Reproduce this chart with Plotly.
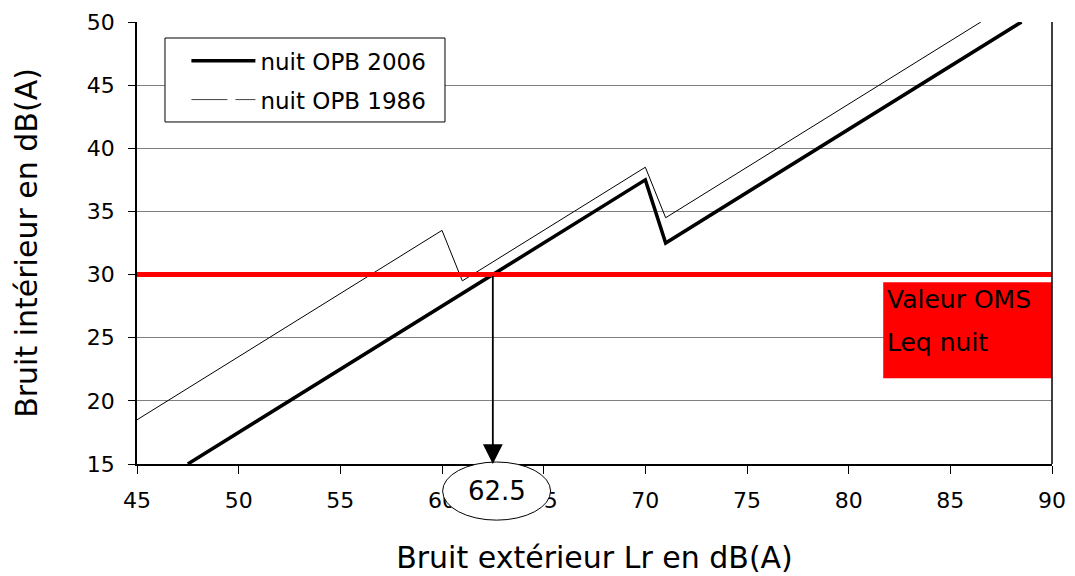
import plotly.graph_objects as go

# Data
x_2006 = [47.5, 70, 71, 88.5]
y_2006 = [15, 37.5, 32.5, 50]
x_1986 = [45, 60, 61, 70, 71, 86.5]
y_1986 = [18.5, 33.5, 29.5, 38.5, 34.5, 50]
oms_level = 30
crossing_x = 62.5
x_ticks = [45, 50, 55, 60, 65, 70, 75, 80, 85, 90]
y_ticks = [15, 20, 25, 30, 35, 40, 45, 50]

FONT = "DejaVu Sans"

fig = go.Figure()
fig.add_trace(go.Scatter(x=x_2006, y=y_2006, mode="lines", name="nuit OPB 2006",
                         legendgroup="a", line=dict(color="black", width=3.5)))
fig.add_trace(go.Scatter(x=x_1986, y=y_1986, mode="lines", name="nuit OPB 1986",
                         legendgroup="b", showlegend=False, line=dict(color="black", width=1)))
# legend-only entry showing the dashed sample
fig.add_trace(go.Scatter(x=[None], y=[None], mode="lines", name="nuit OPB 1986",
                         legendgroup="b", line=dict(color="#444444", width=1, dash="36px,8px,20px")))
# red WHO line
fig.add_trace(go.Scatter(x=[45, 90], y=[oms_level, oms_level], mode="lines",
                         line=dict(color="#ff0000", width=5), showlegend=False))

shapes = [
    dict(type="rect", xref="x", yref="y", x0=81.7, x1=90, y0=21.8, y1=29.4,
         fillcolor="#ff0000", line=dict(width=0), layer="above"),
    dict(type="circle", xref="paper", yref="paper", x0=0.334, x1=0.452, y0=-0.127, y1=0.0045,
         fillcolor="white", line=dict(color="black", width=1), layer="above"),
    dict(type="line", xref="paper", yref="paper", x0=1, x1=1, y0=0, y1=1,
         line=dict(color="black", width=1.5)),
    # legend box
    dict(type="rect", xref="paper", yref="paper", x0=0.0306, x1=0.3366, y0=0.7738, y1=0.9638,
         fillcolor="white", line=dict(color="black", width=1), layer="above"),
]

annotations = [
    dict(x=crossing_x, y=15, ax=crossing_x, ay=oms_level, xref="x", yref="y", axref="x", ayref="y",
         text="", showarrow=True, arrowhead=2, arrowsize=2.2, arrowwidth=1.8, arrowcolor="black"),
    dict(x=0.393, y=-0.061, xref="paper", yref="paper", xanchor="center", yanchor="middle",
         text=str(crossing_x), showarrow=False,
         font=dict(family=FONT, size=26, color="black")),
    dict(x=81.8, y=28.0, xref="x", yref="y", text="Valeur OMS", showarrow=False, xanchor="left",
         font=dict(family=FONT, size=25, color="black")),
    dict(x=81.8, y=24.65, xref="x", yref="y", text="Leq nuit", showarrow=False, xanchor="left",
         font=dict(family=FONT, size=25, color="black")),
]

fig.update_layout(
    width=1075, height=576,
    margin=dict(l=129, r=31, t=14, b=120),
    paper_bgcolor="white", plot_bgcolor="white",
    font=dict(family=FONT, size=22, color="black"),
    showlegend=True,
    legend=dict(x=0.054, y=0.961, xanchor="left", yanchor="top",
                bgcolor="rgba(0,0,0,0)", borderwidth=0,
                font=dict(family=FONT, size=23), itemwidth=64,
                traceorder="grouped", tracegroupgap=6),
    shapes=shapes,
    annotations=annotations,
    xaxis=dict(range=[45, 90], tickvals=x_ticks, showgrid=False, zeroline=False,
               showline=True, linecolor="black", linewidth=1.5, mirror=False,
               ticks="outside", ticklen=8, tickcolor="black", automargin=False,
               ticklabelstandoff=8,
               title=dict(text="Bruit extérieur Lr en dB(A)", font=dict(size=30), standoff=35)),
    yaxis=dict(range=[15, 50], tickvals=y_ticks, showgrid=True, gridcolor="#808080", gridwidth=1,
               zeroline=False, showline=True, linecolor="black", linewidth=1.5,
               ticks="outside", ticklen=7, tickcolor="black", automargin=False,
               ticklabelstandoff=9,
               title=dict(text="Bruit intérieur en dB(A)", font=dict(size=30), standoff=40)),
)

fig.write_html("out.html")
